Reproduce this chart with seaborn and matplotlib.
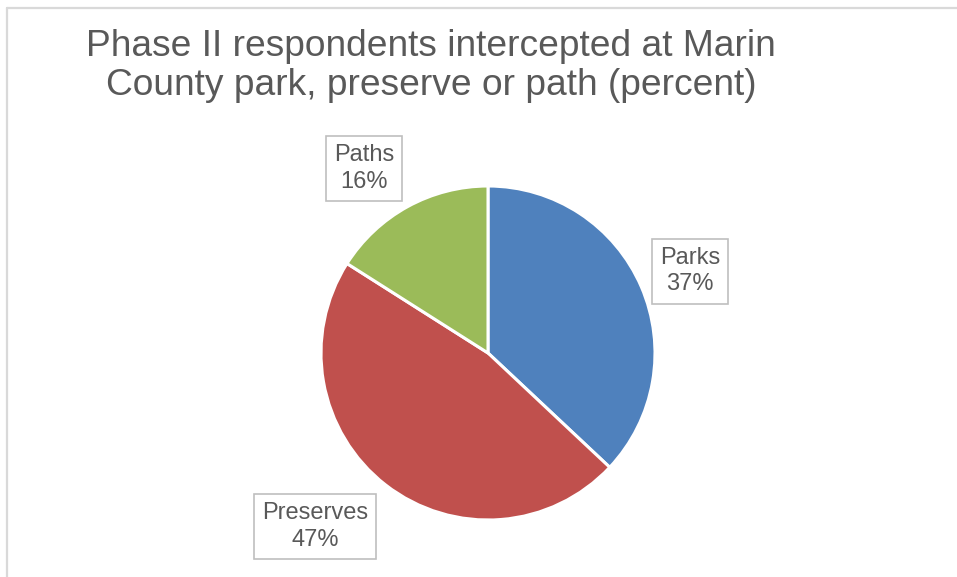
import numpy as np
import matplotlib
matplotlib.use("Agg")
import matplotlib.pyplot as plt
import seaborn as sns

# Data
categories = ["Parks", "Preserves", "Paths"]
percents = [37, 47, 16]
colors = ["#4F81BD", "#C0504D", "#9BBB59"]

sns.set_theme(style="white")
plt.rcParams['font.family'] = ['Liberation Sans', 'DejaVu Sans']

fig = plt.figure(figsize=(9.57, 5.77), dpi=100)
fig.patch.set_facecolor("white")

# chart frame (cropped on right/bottom)
fig.add_artist(plt.Line2D([7.5 / 957, 7.5 / 957], [0, 1 - 7.5 / 577],
                          transform=fig.transFigure, color="#D9D9D9", lw=1.6))
fig.add_artist(plt.Line2D([7.5 / 957, 1], [1 - 7.5 / 577, 1 - 7.5 / 577],
                          transform=fig.transFigure, color="#D9D9D9", lw=1.6))

# Title
fig.text(431 / 957, 1 - 66 / 577,
         "Phase II respondents intercepted at Marin\nCounty park, preserve or path (percent)",
         ha="center", va="center", fontsize=26.7, color="#595959", linespacing=1.17)

# Pie axes
ax = fig.add_axes([321 / 957, 57 / 577, 334 / 957, 334 / 577])
wedges, _ = ax.pie(percents, colors=colors, startangle=90, counterclock=False,
                   radius=1, wedgeprops=dict(edgecolor="white", linewidth=2.2))
ax.set_xlim(-1, 1)
ax.set_ylim(-1, 1)
ax.set_aspect("equal")
ax.axis("off")

# label positions (data units, radius = 1)
label_pos = {"Parks": (1.21, 0.49), "Preserves": (-1.036, -1.039), "Paths": (-0.743, 1.105)}
for cat, pct in zip(categories, percents):
    x, y = label_pos[cat]
    ax.text(x, y, f"{cat}\n{pct}%", ha="center", va="center", fontsize=17,
            color="#595959", linespacing=1.25, clip_on=False,
            bbox=dict(boxstyle="square,pad=0.35", facecolor="white",
                      edgecolor="#BFBFBF", linewidth=1.2))

fig.savefig("out.png", dpi=100, facecolor="white")
